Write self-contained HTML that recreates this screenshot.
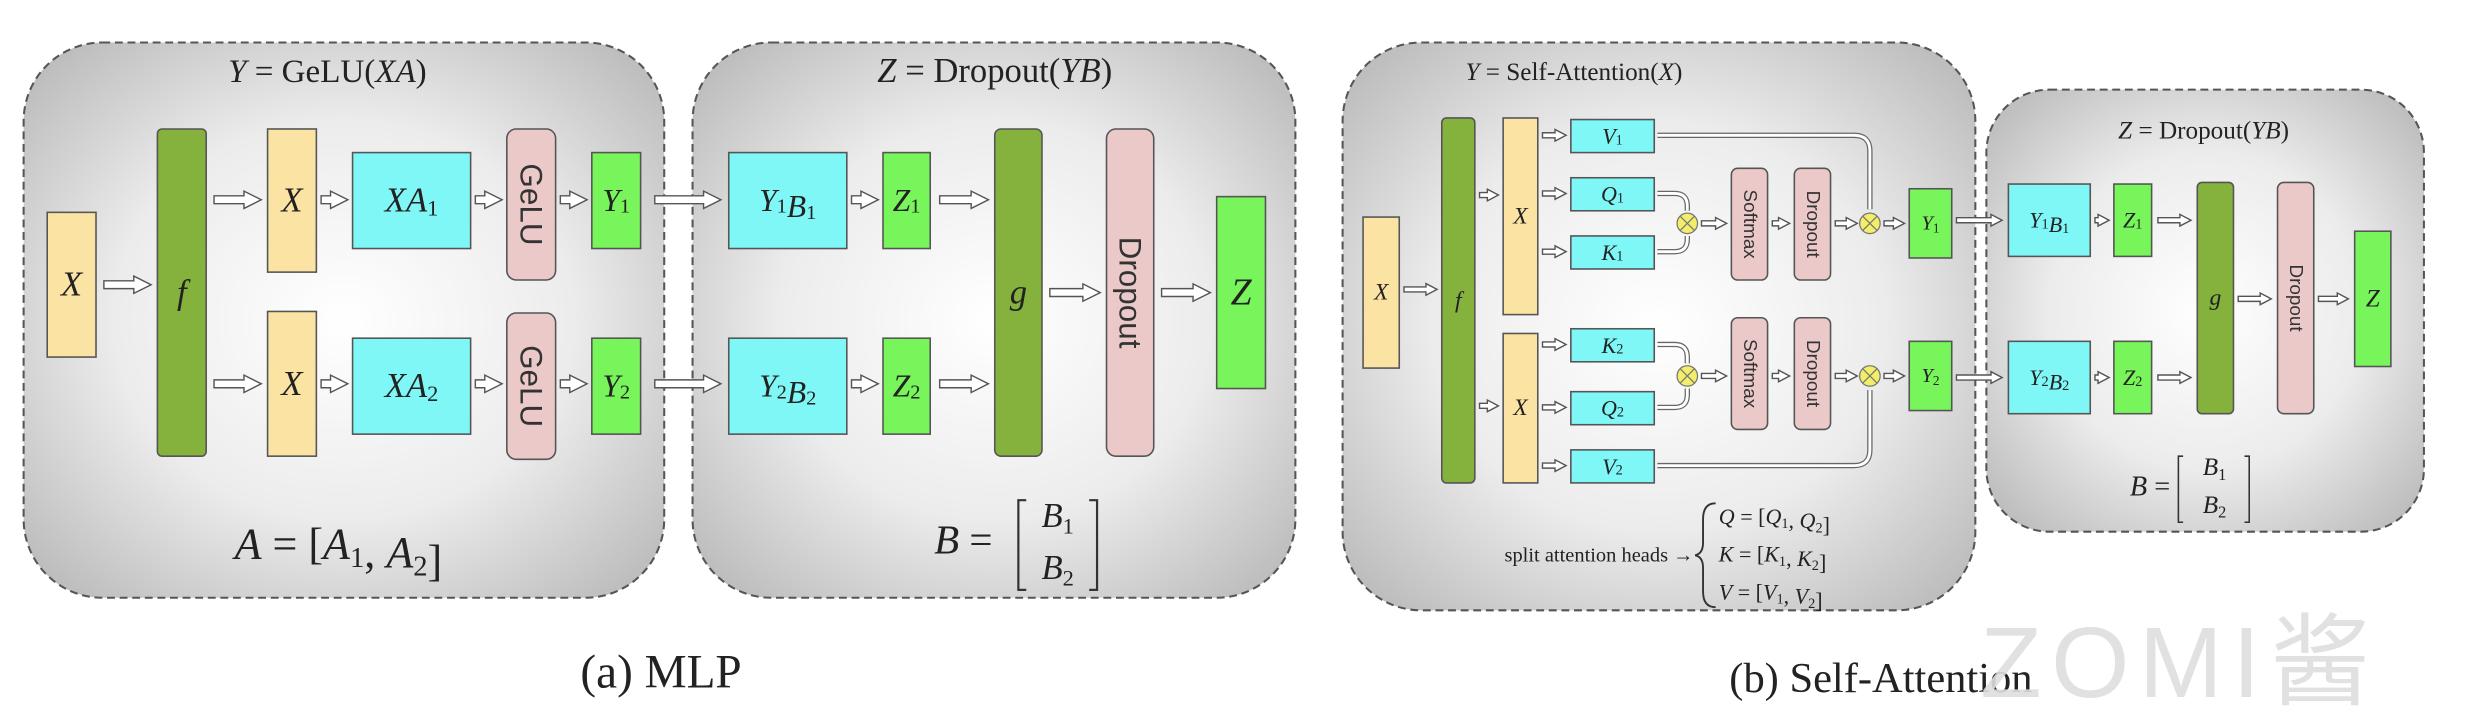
<!DOCTYPE html>
<html><head><meta charset="utf-8"><style>
html,body{margin:0;padding:0;background:#fff;}
svg{display:block;}
.m{font-family:"Liberation Serif",serif;font-style:italic;fill:#222;}
.r{font-family:"Liberation Serif",serif;fill:#222;}
.s{font-family:"Liberation Sans",sans-serif;fill:#333;}
</style></head><body>
<svg id="fig" width="2468" height="722" viewBox="0 0 1568 459" preserveAspectRatio="none" xmlns="http://www.w3.org/2000/svg">
<defs>
<radialGradient id="pg" cx="50%" cy="50%" r="65%"><stop offset="0" stop-color="#ffffff"/><stop offset="0.55" stop-color="#ececec"/><stop offset="1" stop-color="#bdbdbd"/></radialGradient>
</defs>
<g id="panels"></g>
<g id="arrows"></g>
<g id="boxes"></g>
<g id="texts"></g>
</svg>
<script>
const NS='http://www.w3.org/2000/svg';
const svg=document.getElementById('fig');
const gP=document.getElementById('panels'),gA=document.getElementById('arrows'),gB=document.getElementById('boxes'),gT=document.getElementById('texts');
function mk(tag,attrs,parent){const e=document.createElementNS(NS,tag);for(const k in attrs)e.setAttribute(k,attrs[k]);parent.appendChild(e);return e;}
const C={y:'#fbe3a3',f:'#85b23c',c:'#7ff7f7',p:'#ecc9c9',g:'#77f55a'};
const panels=[['mlp-gelu-panel',15,27,407,353,50],['mlp-dropout-panel',440,27,383,353,50],['attention-panel',853,27,402,361,50],['attention-dropout-panel',1262,57,278,281,40]];
panels.forEach(p=>{const e=mk('rect',{x:p[1],y:p[2],width:p[3],height:p[4],rx:p[5],fill:'url(#pg)',stroke:'#555','stroke-width':1.3,'stroke-dasharray':'5 3'},gP);

});
function box(n,x,y,w,h,col,lab,rot,size,it,rx){const g=mk('g',{},gB);


mk('rect',{x:x,y:y,width:w,height:h,fill:col,stroke:'#555','stroke-width':1,rx:rx||0},g);
if(lab){const cx=x+w/2,cy=y+h/2;const t=mk('text',{x:cx,y:cy,'text-anchor':'middle','dominant-baseline':'central','font-size':size,class:it?'m':'s'},g);
if(rot)t.setAttribute('transform','rotate(90 '+cx+' '+cy+')');t.innerHTML=lab;}}
const sub=(a,b)=>a+'<tspan font-size="0.65em" dy="0.3em" font-style="normal">'+b+'</tspan><tspan dy="-0.3em"></tspan>';
box('mlp-input-x',30,135,31,92,C.y,'X',0,22,1);
box('mlp-f',100,82,31,208,C.f,'f',0,22,1,3);
box('mlp-x1',170,82,31,91,C.y,'X',0,22,1);
box('mlp-x2',170,198,31,92,C.y,'X',0,22,1);
box('mlp-xa1',224,97,75,61,C.c,'X'+sub('A','1'),0,22,1);
box('mlp-xa2',224,215,75,61,C.c,'X'+sub('A','2'),0,22,1);
box('mlp-gelu1',322,82,31,96,C.p,'GeLU',1,20,0,6);
box('mlp-gelu2',322,199,31,93,C.p,'GeLU',1,20,0,6);
box('mlp-y1',376,97,31,61,C.g,sub('Y','1'),0,20,1);
box('mlp-y2',376,215,31,61,C.g,sub('Y','2'),0,20,1);
box('mlp-y1b1',463,97,75,61,C.c,sub('Y','1')+sub('B','1'),0,20,1);
box('mlp-y2b2',463,215,75,61,C.c,sub('Y','2')+sub('B','2'),0,20,1);
box('mlp-z1',561,97,30,61,C.g,sub('Z','1'),0,20,1);
box('mlp-z2',561,215,30,61,C.g,sub('Z','2'),0,20,1);
box('mlp-g',632,82,30,208,C.f,'g',0,22,1,4);
box('mlp-dropout',703,82,30,208,C.p,'Dropout',1,20,0,6);
box('mlp-z',773,125,31,122,C.g,'Z',0,24,1);
box('attn-input-x',866,138,23,96,C.y,'X',0,15,1);
box('attn-f',916,75,21,232,C.f,'f',0,15,1,3);
box('attn-x1',955,75,22,125,C.y,'X',0,15,1);
box('attn-x2',955,212,22,95,C.y,'X',0,15,1);
const qk=[['attn-v1',76,sub('V','1')],['attn-q1',113,sub('Q','1')],['attn-k1',150,sub('K','1')],['attn-k2',209,sub('K','2')],['attn-q2',249,sub('Q','2')],['attn-v2',286,sub('V','2')]];
qk.forEach(q=>box(q[0],998,q[1],53,21,C.c,q[2],0,14,1));
[[107,1],[202,2]].forEach(s=>{box('attn-softmax'+s[1],1100,s[0],23,71,C.p,'Softmax',1,12,0,4);box('attn-dropout'+s[1],1140,s[0],23,71,C.p,'Dropout',1,12,0,4);});
box('attn-y1',1213,120,27,44,C.g,sub('Y','1'),0,13,1);
box('attn-y2',1213,217,27,44,C.g,sub('Y','2'),0,13,1);
box('attn-y1b1',1276,117,52,46,C.c,sub('Y','1')+sub('B','1'),0,14,1);
box('attn-y2b2',1276,217,52,46,C.c,sub('Y','2')+sub('B','2'),0,14,1);
box('attn-z1',1343,117,24,46,C.g,sub('Z','1'),0,14,1);
box('attn-z2',1343,217,24,46,C.g,sub('Z','2'),0,14,1);
box('attn-g',1396,116,23,147,C.f,'g',0,15,1,3);
box('attn-dropout-big',1447,116,23,147,C.p,'Dropout',1,12,0,4);
box('attn-z',1496,147,23,86,C.g,'Z',0,16,1);
[[1072,142],[1072,239],[1188,142],[1188,239]].forEach((o,i)=>{const g=mk('g',{},gB);


mk('circle',{cx:o[0],cy:o[1],r:6.5,fill:'#f3ee6a',stroke:'#777','stroke-width':0.8},g);
mk('path',{d:`M${o[0]-4.5} ${o[1]-4.5}L${o[0]+4.5} ${o[1]+4.5}M${o[0]+4.5} ${o[1]-4.5}L${o[0]-4.5} ${o[1]+4.5}`,stroke:'#777','stroke-width':0.8},g);});
function arr(x1,x2,y,h){h=h||3;const hw=h*2;const hl=h*2.2;const e=mk('path',{d:`M${x1} ${y-h/2}L${x2-hl} ${y-h/2}L${x2-hl} ${y-hw/2-0.5}L${x2} ${y}L${x2-hl} ${y+hw/2+0.5}L${x2-hl} ${y+h/2}L${x1} ${y+h/2}Z`,fill:'#fff',stroke:'#555','stroke-width':0.9},gA);

}
const big=[[66,96,181],[136,166,127],[136,166,244],[204,221,127],[204,221,244],[302,319,127],[302,319,244],[356,373,127],[356,373,244],[416,458,127],[416,458,244],[541,558,127],[541,558,244],[597,628,127],[597,628,244],[667,699,186],[738,769,186]];
big.forEach(a=>arr(a[0],a[1],a[2],5));
const small=[[892,913,184],[940,952,124],[940,952,258],[980,995,86],[980,995,123],[980,995,160],[980,995,219],[980,995,259],[980,995,296],[1081,1097,142],[1081,1097,239],[1126,1137,142],[1126,1137,239],[1166,1180,142],[1166,1180,239],[1197,1210,142],[1197,1210,239],[1243,1272,140],[1243,1272,240],[1331,1340,140],[1331,1340,240],[1371,1392,140],[1371,1392,240],[1422,1443,190],[1473,1492,190]];
small.forEach(a=>arr(a[0],a[1],a[2],3.2));
const curves=['M1053 86 L1178 86 Q1188 86 1188 96 L1188 133','M1053 123 L1064 123 Q1072 123 1072 131 L1072 134','M1053 160 L1064 160 Q1072 160 1072 152 L1072 150','M1053 219 L1064 219 Q1072 219 1072 227 L1072 231','M1053 259 L1064 259 Q1072 259 1072 251 L1072 247','M1053 296 L1178 296 Q1188 296 1188 286 L1188 248'];
curves.forEach(d=>{const e=mk('path',{d:d,fill:'none',stroke:'#666','stroke-width':3.4},gA);


mk('path',{d:d,fill:'none',stroke:'#fff','stroke-width':1.8},gA);});
function txt(n,x,y,s,html,cls,anchor){const t=mk('text',{x:x,y:y,'font-size':s,class:cls||'r','text-anchor':anchor||'middle'},gT);


t.innerHTML=html;return t;}
const I=s=>'<tspan font-style="italic">'+s+'</tspan>';
const sb=(a,b)=>I(a)+'<tspan font-size="0.65em" dy="0.3em">'+b+'</tspan><tspan dy="-0.3em"></tspan>';
txt('mlp-gelu-title',208,52,21,I('Y')+' = GeLU('+I('XA')+')');
txt('mlp-dropout-title',632,52,22,I('Z')+' = Dropout('+I('YB')+')');
txt('a-equation',215,355,28,I('A')+' = ['+sb('A','1')+', '+sb('A','2')+']');
txt('b-label-mlp',612,352,26,I('B')+' =');
txt('b1-mlp',672,335,22,sb('B','1'));
txt('b2-mlp',672,368,22,sb('B','2'));
txt('attn-title',1000,51,16,I('Y')+' = Self-Attention('+I('X')+')');
txt('attn-dropout-title',1400,88,16,I('Z')+' = Dropout('+I('YB')+')');
txt('b-label-attn',1366,315,18,I('B')+' =');
txt('b1-attn',1407,302,16,sb('B','1'));
txt('b2-attn',1407,326,16,sb('B','2'));
txt('split-heads-label',1076,357,13,'split attention heads →','r','end');
txt('q-eq',1092,333,14,I('Q')+' = ['+sb('Q','1')+', '+sb('Q','2')+']','r','start');
txt('k-eq',1092,357,14,I('K')+' = ['+sb('K','1')+', '+sb('K','2')+']','r','start');
txt('v-eq',1092,381,14,I('V')+' = ['+sb('V','1')+', '+sb('V','2')+']','r','start');
txt('caption-a',420,437,30,'(a) MLP');
txt('caption-b',1195,440,27,'(b) Self-Attention');
const wm=txt('watermark',1385,443,64,'ZOMI酱','s');
wm.setAttribute('style','fill:#dedede;letter-spacing:6px;opacity:0.9');
[['M652 318 L647 318 L647 375 L652 375','M692 318 L697 318 L697 375 L692 375',1.4],['M1387 290 L1384 290 L1384 332 L1387 332','M1426 290 L1429 290 L1429 332 L1426 332',1]].forEach(b=>{[b[0],b[1]].forEach(d=>{const e=mk('path',{d:d,fill:'none',stroke:'#333','stroke-width':b[2]},gT);

});});
const br=mk('path',{d:'M1090 320 Q1082 320 1082 330 L1082 345 Q1082 352 1077 353 Q1082 354 1082 361 L1082 376 Q1082 386 1090 386',fill:'none',stroke:'#333','stroke-width':1.2},gT);


</script>
</body></html>
